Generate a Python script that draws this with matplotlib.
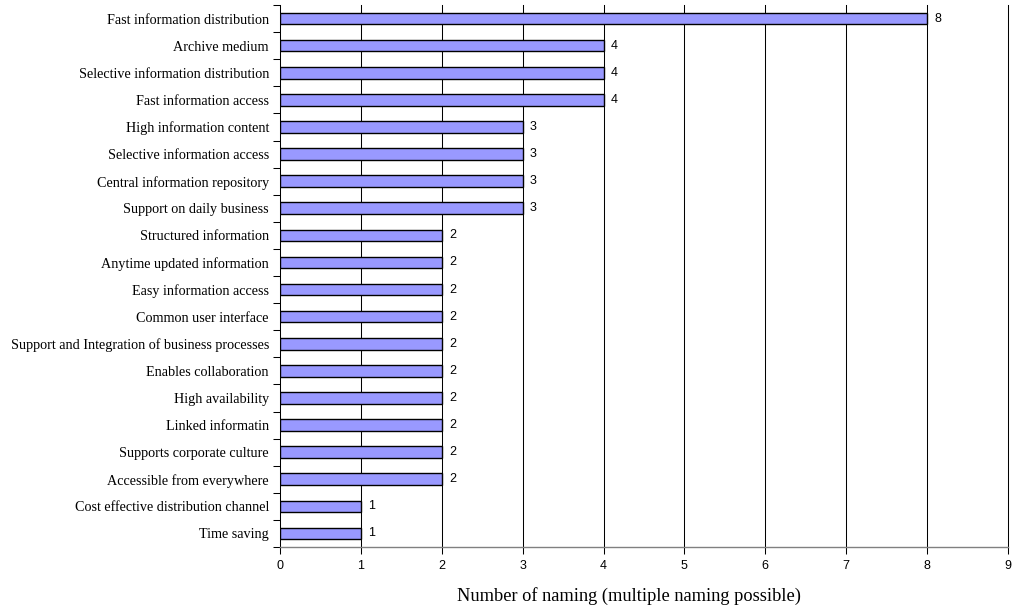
import numpy as np
import matplotlib.pyplot as plt
from matplotlib.ticker import FixedLocator, NullFormatter

categories = [
    "Fast information distribution",
    "Archive medium",
    "Selective information distribution",
    "Fast information access",
    "High information content",
    "Selective information access",
    "Central information repository",
    "Support on daily business",
    "Structured information",
    "Anytime updated information",
    "Easy information access",
    "Common user interface",
    "Support and Integration of business processes",
    "Enables collaboration",
    "High availability",
    "Linked informatin",
    "Supports corporate culture",
    "Accessible from everywhere",
    "Cost effective distribution channel",
    "Time saving",
]
counts = [8, 4, 4, 4, 3, 3, 3, 3, 2, 2, 2, 2, 2, 2, 2, 2, 2, 2, 1, 1]
x_ticks = list(range(0, 10))

fig = plt.figure(figsize=(10.13, 6.11), dpi=100)
ax = fig.add_axes([0.2764, 0.1047, 0.7186, 0.8871])

n = len(categories)
y = np.arange(n)
ax.barh(y, counts, height=0.43, color="#9999FF", edgecolor="black", linewidth=1.0, zorder=3)

for yi, v in zip(y, counts):
    ax.text(v + 0.09, yi, str(v), va="center", ha="left",
            fontsize=9, family="Liberation Sans", zorder=4)

ax.set_xlim(0, 9)
ax.set_ylim(n - 0.5, -0.5)

ax.set_xticks(x_ticks)
ax.set_xticklabels([str(t) for t in x_ticks], family="Liberation Sans", fontsize=9)
ax.tick_params(axis="x", direction="out", length=5, width=0.75, pad=4, color="black")

# category labels centred on bars, tick marks on the boundaries between them
ax.set_yticks(y)
ax.set_yticklabels(categories, family="Liberation Serif", fontsize=10.2)
ax.tick_params(axis="y", which="major", length=0, pad=8)
ax.yaxis.set_minor_locator(FixedLocator(np.arange(-0.5, n, 1.0)))
ax.yaxis.set_minor_formatter(NullFormatter())
ax.tick_params(axis="y", which="minor", direction="out", length=5, width=0.75)

for xv in x_ticks[1:]:
    ax.axvline(xv, color="black", linewidth=0.75, zorder=1, clip_on=False)

ax.spines["top"].set_visible(False)
ax.spines["right"].set_visible(False)
ax.spines["left"].set_linewidth(0.75)
ax.spines["bottom"].set_color("#808080")
ax.spines["bottom"].set_linewidth(1.0)

ax.set_xlabel("Number of naming (multiple naming possible)",
              family="Liberation Serif", fontsize=13.2)
ax.xaxis.set_label_coords(0.479, -0.074)

fig.savefig("out.png", dpi=100)
plt.close(fig)
